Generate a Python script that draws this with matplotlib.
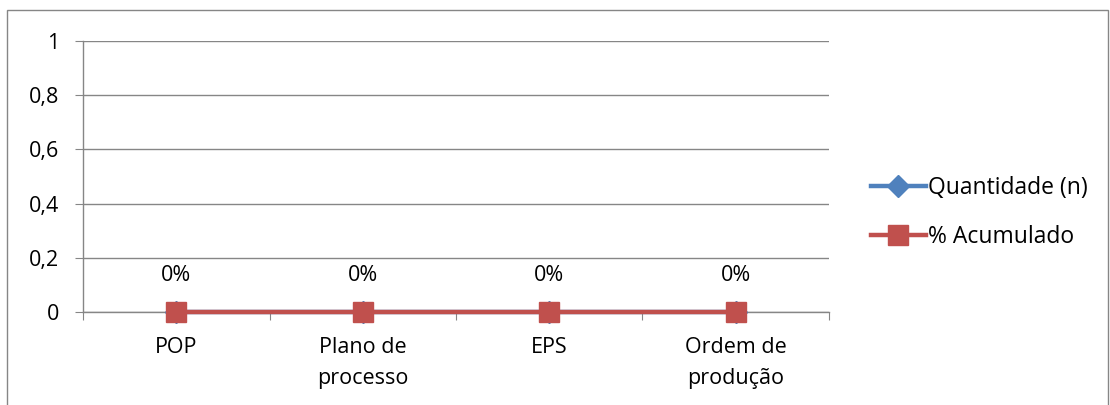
import matplotlib.pyplot as plt
from matplotlib.patches import Rectangle

plt.rcParams["font.family"] = ["Open Sans", "DejaVu Sans"]

# Data
categories = ["POP", "Plano de\nprocesso", "EPS", "Ordem de\nprodução"]
quantidade = [0, 0, 0, 0]
acumulado = [0, 0, 0, 0]
acumulado_labels = ["0%", "0%", "0%", "0%"]
y_ticks = [0, 0.2, 0.4, 0.6, 0.8, 1.0]
y_tick_labels = ["0", "0,2", "0,4", "0,6", "0,8", "1"]

BLUE = "#4F81BD"
RED = "#C0504D"
GRID = "#868686"
FS = 15.5

fig = plt.figure(figsize=(11.1, 4.05), dpi=100)
ax = fig.add_axes([0.0748, 0.2296, 0.672, 0.6692])

x = list(range(len(categories)))
ax.plot(x, quantidade, color=BLUE, lw=3.2, marker="D", ms=11,
        label="Quantidade (n)", zorder=3)
ax.plot(x, acumulado, color=RED, lw=3.2, marker="s", ms=15,
        label="% Acumulado", zorder=4)

for xi, yi, lab in zip(x, acumulado, acumulado_labels):
    ax.annotate(lab, (xi, yi), xytext=(0, 26), textcoords="offset points",
                ha="center", va="center", fontsize=FS)

ax.set_xlim(-0.5, len(categories) - 0.5)
ax.set_ylim(0, 1)
ax.set_yticks(y_ticks)
ax.set_yticklabels(y_tick_labels, fontsize=FS)
ax.yaxis.grid(True, color=GRID, lw=1)
ax.set_axisbelow(True)

ax.set_xticks([i - 0.5 for i in range(len(categories) + 1)])
ax.set_xticklabels([])
ax.set_xticks(x, minor=True)
ax.set_xticklabels(categories, minor=True, fontsize=FS, linespacing=1.65)
ax.tick_params(axis="x", which="major", length=6, color=GRID, direction="out")
ax.tick_params(axis="x", which="minor", length=0, pad=18)
ax.tick_params(axis="y", length=6, color=GRID, pad=11)

for side in ("top", "right"):
    ax.spines[side].set_visible(False)
for side in ("left", "bottom"):
    ax.spines[side].set_color(GRID)
    ax.spines[side].set_linewidth(1)
for ln in ax.lines:
    ln.set_clip_on(False)

fig.legend(loc="center left", bbox_to_anchor=(0.766, 0.475), frameon=False,
           fontsize=FS + 1, handlelength=2.4, handletextpad=0.1,
           labelspacing=1.1)

fig.patches.append(Rectangle((7 / 1110, -0.01), 1101 / 1110, 1 - 10 / 405 + 0.01,
                             transform=fig.transFigure, fill=False,
                             edgecolor=GRID, lw=1))

fig.savefig("out.png", dpi=100)
